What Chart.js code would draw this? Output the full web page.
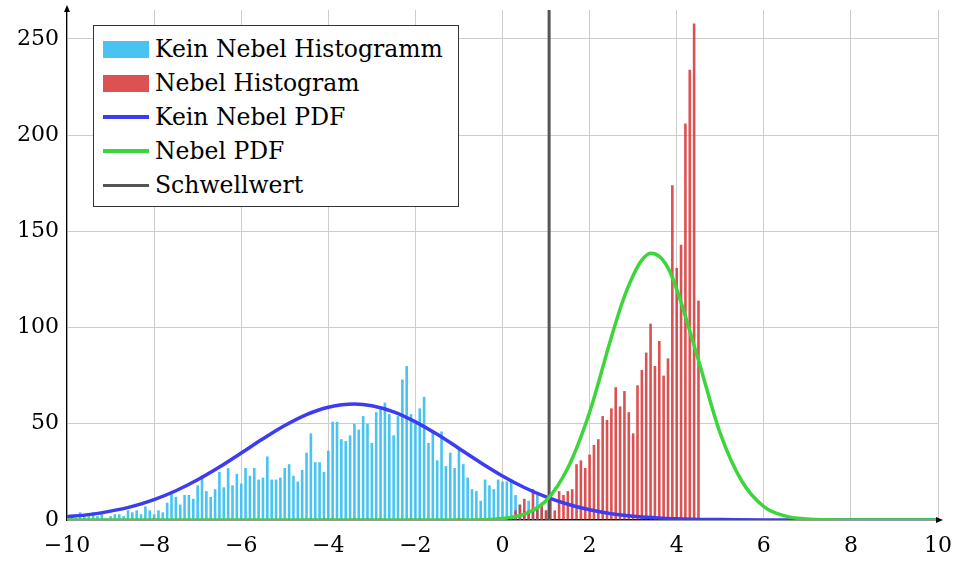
<!DOCTYPE html>
<html lang="de">
<head>
<meta charset="utf-8">
<title>Nebel / Kein Nebel – Histogramm</title>
<script src="https://cdn.jsdelivr.net/npm/chart.js@4.4.1/dist/chart.umd.min.js"></script>
<style>
  html, body { margin: 0; padding: 0; background: #fff; }
  #wrap { position: relative; width: 956px; height: 561px; }
  #legende {
    position: absolute; left: 93px; top: 25px; width: 366px; height: 182px;
    box-sizing: border-box; border: 1px solid #333; background: #fff;
    padding-top: 6px; font-family: "DejaVu Serif", serif; font-size: 23.5px; color: #000;
  }
  .eintrag { display: flex; align-items: center; height: 34px; padding-left: 9px; white-space: nowrap; }
  .muster { width: 46px; margin-right: 6px; flex: none; }
</style>
</head>
<body>
<div id="wrap">
  <canvas id="chartNebel" width="956" height="561"></canvas>
  <div id="legende"></div>
</div>
<script>
// --- 1. DATEN ---
// Histogramm ohne Nebel (Bins à 0.1)
const knX = [
  -10.0, -9.9, -9.8, -9.7, -9.6, -9.5, -9.4, -9.3, -9.2, -9.1,
  -9.0, -8.9, -8.8, -8.7, -8.6, -8.5, -8.4, -8.3, -8.2, -8.1,
  -8.0, -7.9, -7.8, -7.7, -7.6, -7.5, -7.4, -7.3, -7.2, -7.1,
  -7.0, -6.9, -6.8, -6.7, -6.6, -6.5, -6.4, -6.3, -6.2, -6.1,
  -6.0, -5.9, -5.8, -5.7, -5.6, -5.5, -5.4, -5.3, -5.2, -5.1,
  -5.0, -4.9, -4.8, -4.7, -4.6, -4.5, -4.4, -4.3, -4.2, -4.1,
  -4.0, -3.9, -3.8, -3.7, -3.6, -3.5, -3.4, -3.3, -3.2, -3.1,
  -3.0, -2.9, -2.8, -2.7, -2.6, -2.5, -2.4, -2.3, -2.2, -2.1,
  -2.0, -1.9, -1.8, -1.7, -1.6, -1.5, -1.4, -1.3, -1.2, -1.1,
  -1.0, -0.9, -0.8, -0.7, -0.6, -0.5, -0.4, -0.3, -0.2, -0.1,
  0.0, 0.1, 0.2, 0.3, 0.4, 0.5, 0.6, 0.7, 0.8, 0.9, 1.0
];
const knAnzahl = [
  1, 2, 1, 4, 3, 2, 4, 2, 4, 1,
  2, 3, 3, 2, 5, 4, 5, 3, 7, 5,
  3, 5, 4, 9, 14, 12, 8, 13, 13, 11,
  18, 23, 15, 12, 16, 25, 17, 27, 18, 24,
  19, 27, 23, 27, 21, 22, 33, 21, 21, 22,
  27, 29, 23, 20, 26, 35, 45, 30, 30, 25,
  36, 51, 51, 42, 41, 44, 50, 47, 54, 50,
  40, 56, 58, 61, 55, 44, 54, 73, 80, 55,
  50, 58, 64, 40, 46, 31, 46, 28, 35, 27,
  38, 29, 22, 16, 15, 10, 21, 18, 16, 21,
  20, 20, 21, 13, 8, 5, 10, 6, 13, 6, 5
];

// Histogramm mit Nebel
const nX = [
  -8.0, -4.4, -4.1, -3.9, -3.4, -3.1, -2.8, -2.1, -1.9, -1.0, -0.9,
  0.1, 0.2, 0.3, 0.4, 0.5, 0.6, 0.7, 0.8, 0.9,
  1.0, 1.1, 1.2, 1.3, 1.4, 1.5, 1.6, 1.7, 1.8, 1.9,
  2.0, 2.1, 2.2, 2.3, 2.4, 2.5, 2.6, 2.7, 2.8, 2.9,
  3.0, 3.1, 3.2, 3.3, 3.4, 3.5, 3.6, 3.7, 3.8, 3.9,
  4.0, 4.1, 4.2, 4.3, 4.4, 4.5, 4.6
];
const nAnzahl = [
  1, 1, 1, 1, 1, 1, 1, 1, 1, 1, 1,
  1, 2, 5, 8, 11, 5, 16, 6, 9,
  5, 14, 5, 15, 13, 15, 16, 29, 31, 27,
  34, 39, 42, 54, 52, 58, 69, 59, 67, 56,
  45, 70, 78, 87, 102, 80, 93, 75, 84, 174,
  131, 143, 206, 234, 258, 114, 1
];

// Dichtefunktionen (Stützstellen)
const knPdfX = [-10, -9.5, -9, -8.5, -8, -7.5, -7, -6.5, -6, -5.5, -5, -4.5, -4, -3.4, -3, -2.5, -2, -1.5, -1, -0.5, 0, 0.5, 1, 1.5, 2, 2.5, 3, 3.5, 4, 4.5, 5, 6, 7, 8, 10];
const knPdfY = [1.7, 2.8, 4.6, 7.1, 10.6, 15.2, 20.9, 27.5, 34.8, 42.2, 49.1, 54.8, 58.6, 60.3, 59.4, 56.2, 51.0, 44.5, 37.2, 29.8, 22.9, 16.9, 12.0, 8.2, 5.3, 3.3, 2.0, 1.2, 0.6, 0.3, 0.2, 0, 0, 0, 0];

const nPdfX = [-10, -1, 0, 0.5, 1, 1.5, 2, 2.5, 2.75, 3, 3.2, 3.4, 3.6, 3.8, 4, 4.5, 5, 5.5, 6, 6.5, 7, 7.5, 8, 10];
const nPdfY = [0, 0, 0.8, 3, 10, 27, 56, 95, 113, 127, 135, 138.6, 137, 131, 120, 83, 45, 20, 7, 2, 0.5, 0.1, 0, 0];

const schwellwert = 1.07;

const xTicks = [-10, -8, -6, -4, -2, 0, 2, 4, 6, 8, 10];
const yTicks = [0, 50, 100, 150, 200, 250];
const yMax = 265;

// --- 2. HILFSFUNKTIONEN ---
function punkte(xs, ys) {
    return xs.map((x, i) => ({ x: x, y: ys[i] }));
}

function minus(v) {
    return v < 0 ? '\u2212' + Math.abs(v) : String(v);
}

const schrift = { family: '"DejaVu Serif", serif', size: 22 };

// Pfeilspitzen an den Achsenenden
const pfeile = {
    id: 'pfeile',
    afterDraw(chart) {
        const { ctx, chartArea: a } = chart;
        ctx.save();
        ctx.fillStyle = '#000';
        ctx.beginPath();
        ctx.moveTo(a.right + 5, a.bottom);
        ctx.lineTo(a.right - 2, a.bottom - 3);
        ctx.lineTo(a.right - 2, a.bottom + 3);
        ctx.closePath();
        ctx.fill();
        ctx.beginPath();
        ctx.moveTo(a.left, a.top - 5);
        ctx.lineTo(a.left - 3, a.top + 2);
        ctx.lineTo(a.left + 3, a.top + 2);
        ctx.closePath();
        ctx.fill();
        ctx.restore();
    }
};

// --- 3. DIAGRAMM ---
const datensaetze = [
    {
        type: 'bar', label: 'Kein Nebel Histogramm',
        data: punkte(knX, knAnzahl),
        backgroundColor: 'rgba(58,190,240,0.92)',
        grouped: false, barPercentage: 0.6, categoryPercentage: 1,
        order: 5, muster: 'box'
    },
    {
        type: 'bar', label: 'Nebel Histogram',
        data: punkte(nX, nAnzahl),
        backgroundColor: 'rgba(214,52,52,0.86)',
        grouped: false, barPercentage: 0.6, categoryPercentage: 1,
        order: 4, muster: 'box'
    },
    {
        type: 'line', label: 'Kein Nebel PDF',
        data: punkte(knPdfX, knPdfY),
        borderColor: '#3c3cf2', borderWidth: 3.5,
        pointRadius: 0, cubicInterpolationMode: 'monotone',
        order: 2, muster: 'linie'
    },
    {
        type: 'line', label: 'Nebel PDF',
        data: punkte(nPdfX, nPdfY),
        borderColor: '#3cd63c', borderWidth: 3.5,
        pointRadius: 0, cubicInterpolationMode: 'monotone',
        order: 1, muster: 'linie'
    },
    {
        type: 'line', label: 'Schwellwert',
        data: [{ x: schwellwert, y: 0 }, { x: schwellwert, y: yMax }],
        borderColor: '#555555', borderWidth: 3,
        pointRadius: 0,
        order: 3, muster: 'linie'
    }
];

new Chart(document.getElementById('chartNebel'), {
    type: 'bar',
    data: { datasets: datensaetze },
    plugins: [pfeile],
    options: {
        responsive: false,
        animation: false,
        layout: { padding: { top: 10, right: 18, left: 0, bottom: 0 } },
        plugins: { legend: { display: false }, tooltip: { enabled: false } },
        scales: {
            x: {
                type: 'linear', min: -10, max: 10, offset: false,
                grid: { color: '#cdcdcd', drawTicks: false, offset: false },
                border: { color: '#000', width: 1.2 },
                afterBuildTicks: s => { s.ticks = xTicks.map(v => ({ value: v })); },
                ticks: { color: '#000', font: schrift, padding: 13, maxRotation: 0, autoSkip: false, callback: v => minus(v) },
                // Beschriftungen dürfen über den Rand ragen
                afterFit: s => { s.height = 41; s.paddingLeft = 0; s.paddingRight = 0; }
            },
            y: {
                type: 'linear', min: 0, max: yMax,
                grid: { color: '#cdcdcd', drawTicks: false },
                border: { color: '#000', width: 1.2 },
                afterBuildTicks: s => { s.ticks = yTicks.map(v => ({ value: v })); },
                ticks: { color: '#000', font: schrift, padding: 8 },
                afterFit: s => { s.width = 67; s.paddingTop = 0; s.paddingBottom = 0; }
            }
        }
    }
});

// --- 4. LEGENDE ---
const legende = document.getElementById('legende');
datensaetze.forEach(ds => {
    const zeile = document.createElement('div');
    zeile.className = 'eintrag';
    const m = document.createElement('span');
    m.className = 'muster';
    if (ds.muster === 'box') {
        m.style.height = '17px';
        m.style.background = ds.backgroundColor;
    } else {
        m.style.height = ds.borderWidth + 'px';
        m.style.background = ds.borderColor;
    }
    const t = document.createElement('span');
    t.textContent = ds.label;
    zeile.appendChild(m);
    zeile.appendChild(t);
    legende.appendChild(zeile);
});
</script>
</body>
</html>
